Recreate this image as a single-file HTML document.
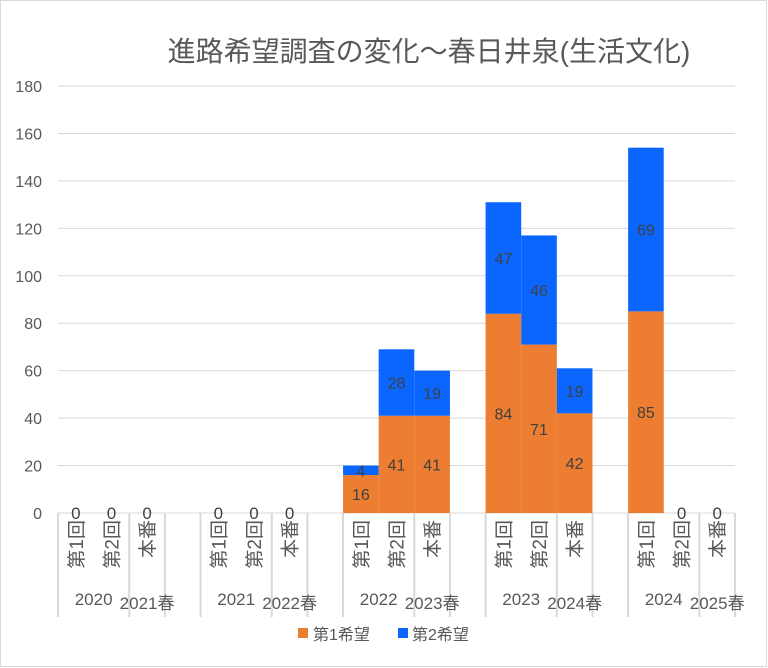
<!DOCTYPE html>
<html><head><meta charset="utf-8"><style>
html,body{margin:0;padding:0;background:#fff}
body{width:768px;height:668px;overflow:hidden;position:relative;font-family:"Liberation Sans","Noto Sans CJK JP",sans-serif}
</style></head><body>
<svg id="chart" width="768" height="668" style="position:absolute;left:0;top:0" font-family="Liberation Sans, Noto Sans CJK JP, sans-serif">
<rect x="0.5" y="0.5" width="766" height="666" fill="#fff" stroke="#d9d9d9"/>
<text x="429" y="61" text-anchor="middle" font-size="28" fill="#595959">進路希望調査の変化～春日井泉(生活文化)</text>
<g id="grid"></g><g id="bars"></g><g id="labels"></g><g id="axis"></g>
<rect x="298" y="628" width="10" height="10" fill="#ED7D31"/>
<text x="313" y="640" font-size="16" fill="#595959">第1希望</text>
<rect x="398" y="628" width="10" height="10" fill="#0A66FF"/>
<text x="412" y="640" font-size="16" fill="#595959">第2希望</text>
</svg>
<script>
const categories=["第1回","第2回","本番","","第1回","第2回","本番","","第1回","第2回","本番","","第1回","第2回","本番","","第1回","第2回","本番"];
const first=[0,0,0,null,0,0,0,null,16,41,41,null,84,71,42,null,85,0,0];
const second=[null,null,null,null,null,null,null,null,4,28,19,null,47,46,19,null,69,null,null];
const yTicks=[0,20,40,60,80,100,120,140,160,180];
const groups=[["2020",0,1],["2021春",2,2],["2021",4,5],["2022春",6,6],["2022",8,9],["2023春",10,10],["2023",12,13],["2024春",14,14],["2024",16,17],["2025春",18,18]];
const sepIdx=[0,2,3,4,6,7,8,10,11,12,14,15,16,18,19];
const NS="http://www.w3.org/2000/svg";
const X0=58,X1=735,Y0=513,Y1=86,yMax=180;
const sw=(X1-X0)/categories.length;
const y=v=>Y0-(v/yMax)*(Y0-Y1);
const xc=i=>X0+sw*(i+0.5);
function mk(p,t,a){const e=document.createElementNS(NS,t);for(const k in a)e.setAttribute(k,a[k]);p.appendChild(e);return e;}
const grid=document.getElementById('grid'),bars=document.getElementById('bars'),labels=document.getElementById('labels'),axis=document.getElementById('axis');
yTicks.forEach(t=>{
 const l=mk(grid,'line',{x1:X0,x2:X1,y1:y(t),y2:y(t),stroke:'#d9d9d9','stroke-width':1});
 
 
 const tx=mk(axis,'text',{x:42,y:y(t)+6,'text-anchor':'end','font-size':16,fill:'#595959'});
 tx.textContent=t;
 
 
});
sepIdx.forEach(k=>{
 const l=mk(axis,'line',{x1:X0+sw*k,x2:X0+sw*k,y1:Y0,y2:617,stroke:'#d9d9d9','stroke-width':2});
 
 
});
categories.forEach((c,i)=>{
 const f=first[i],s=second[i];
 if(f===null)return;
 const x=xc(i)-sw/2;
 if(f>0){
  const r=mk(bars,'rect',{x:x,y:y(f),width:sw,height:Y0-y(f),fill:'#ED7D31'});
  
  
 }
 const t=mk(labels,'text',{x:xc(i),y:(f>0?(y(f)+Y0)/2:Y0)+6,'text-anchor':'middle','font-size':f>0?16:17,fill:'#404040'});
 t.textContent=f;
 
 
 if(s!==null){
  const r2=mk(bars,'rect',{x:x,y:y(f+s),width:sw,height:y(f)-y(f+s),fill:'#0A66FF'});
  
  
  const t2=mk(labels,'text',{x:xc(i),y:(y(f)+y(f+s))/2+6,'text-anchor':'middle','font-size':16,fill:'#404040'});
  t2.textContent=s;
  
  
 }
});
groups.forEach(g=>{
 const cx=(xc(g[1])+xc(g[2]))/2;
 const sp=g[0].indexOf('春')>=0;
 const t=mk(axis,'text',{x:cx,y:sp?609:605,'text-anchor':'middle','font-size':17,fill:'#595959'});
 t.textContent=g[0];
 
 
});
categories.forEach((c,i)=>{
 if(!c)return;
 const cx=xc(i)+7;
 const t=mk(axis,'text',{x:0,y:0,'text-anchor':'end','font-size':19,fill:'#595959',transform:'translate('+cx+',520) rotate(-90)'});
 t.textContent=c;
 
 
});
</script>
</body></html>
